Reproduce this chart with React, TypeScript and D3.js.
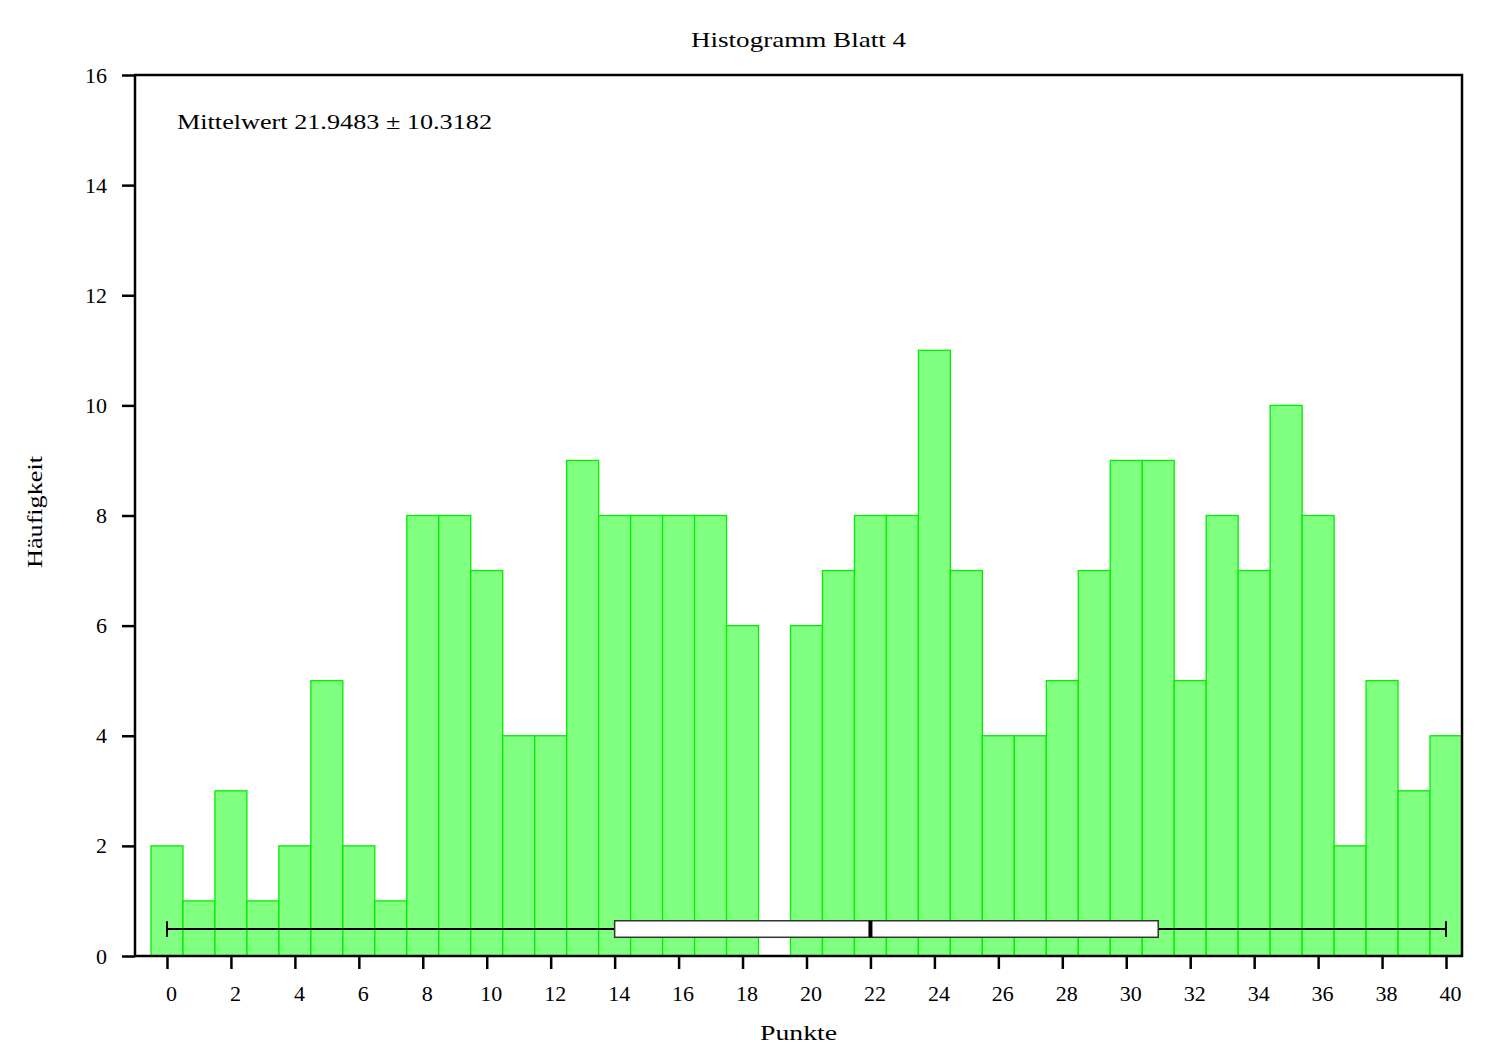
import React, { useEffect, useRef } from 'react';
import * as d3 from 'd3';

// Punkte (bin centres) and Häufigkeit (counts per bin)
const points = d3.range(0, 41);
const counts = [
  2, 1, 3, 1, 2, 5, 2, 1, 8, 8,
  7, 4, 4, 9, 8, 8, 8, 8, 6, 0,
  6, 7, 8, 8, 11, 7, 4, 4, 5, 7,
  9, 9, 5, 8, 7, 10, 8, 2, 5, 3,
  4,
];
// min, q1, median, q3, max
const boxStats = [0, 14, 22, 31, 40];
const xTicks = d3.range(0, 41, 2);
const yTicks = d3.range(0, 17, 2);

const title = 'Histogramm Blatt 4';
const meanText = 'Mittelwert 21.9483 \u00b1 10.3182';
const xLabel = 'Punkte';
const yLabel = 'Häufigkeit';

const W = 1500;
const H = 1050;
const margin = { top: 75, right: 38, bottom: 94, left: 135 };
const font = '"Liberation Serif", "DejaVu Serif", serif';

const App: React.FC = () => {
  const svgRef = useRef<SVGSVGElement>(null);

  useEffect(() => {
    if (!svgRef.current) return;
    const svg = d3.select(svgRef.current);
    svg.selectAll('*').remove();

    const innerW = W - margin.left - margin.right;
    const innerH = H - margin.top - margin.bottom;

    const x = d3.scaleLinear().domain([-1, 40.5]).range([0, innerW]);
    const y = d3.scaleLinear().domain([0, 16]).range([innerH, 0]);

    const g = svg.append('g')
      .attr('transform', `translate(${margin.left},${margin.top})`);

    // bars
    g.selectAll('rect.bar')
      .data(points.map((p, i) => ({ p, c: counts[i] })).filter(d => d.c > 0))
      .enter()
      .append('rect')
      .attr('class', 'bar')
      .attr('x', d => x(d.p - 0.5))
      .attr('width', d => x(d.p + 0.5) - x(d.p - 0.5))
      .attr('y', d => y(d.c))
      .attr('height', d => y(0) - y(d.c))
      .attr('fill', '#80ff80')
      .attr('stroke', '#00ee00')
      .attr('stroke-width', 1.3);

    // box plot
    const [mn, q1, med, q3, mx] = boxStats;
    const yc = y(0.49);
    const half = y(0) - y(0.15);
    g.append('line')
      .attr('x1', x(mn)).attr('x2', x(q1))
      .attr('y1', yc).attr('y2', yc)
      .attr('stroke', '#000').attr('stroke-width', 2);
    g.append('line')
      .attr('x1', x(q3)).attr('x2', x(mx))
      .attr('y1', yc).attr('y2', yc)
      .attr('stroke', '#000').attr('stroke-width', 2);
    [mn, mx].forEach(v => {
      g.append('line')
        .attr('x1', x(v)).attr('x2', x(v))
        .attr('y1', yc - half * 0.95).attr('y2', yc + half * 0.95)
        .attr('stroke', '#000').attr('stroke-width', 2);
    });
    g.append('rect')
      .attr('x', x(q1)).attr('width', x(q3) - x(q1))
      .attr('y', yc - half).attr('height', half * 2)
      .attr('fill', '#fff')
      .attr('stroke', '#333').attr('stroke-width', 1.5);
    g.append('line')
      .attr('x1', x(med)).attr('x2', x(med))
      .attr('y1', yc - half).attr('y2', yc + half)
      .attr('stroke', '#000').attr('stroke-width', 4);

    // frame
    g.append('rect')
      .attr('x', 0).attr('y', 0)
      .attr('width', innerW).attr('height', innerH)
      .attr('fill', 'none')
      .attr('stroke', '#000').attr('stroke-width', 2.5);

    // y axis
    const yAxis = g.append('g')
      .call(d3.axisLeft(y).tickValues(yTicks).tickSize(13).tickPadding(15).tickFormat(d3.format('d')));
    yAxis.select('.domain').remove();
    yAxis.selectAll('line').attr('stroke-width', 2.5);
    yAxis.selectAll('text')
      .attr('font-family', font)
      .attr('font-size', 22)
      .attr('fill', '#000');

    // x axis
    const xAxis = g.append('g')
      .attr('transform', `translate(0,${innerH})`)
      .call(d3.axisBottom(x).tickValues(xTicks).tickSize(13).tickPadding(16).tickFormat(d3.format('d')));
    xAxis.select('.domain').remove();
    xAxis.selectAll('line').attr('stroke-width', 2.5);
    xAxis.selectAll('text')
      .attr('font-family', font)
      .attr('font-size', 22)
      .attr('fill', '#000')
      .attr('dx', 4);

    // texts (Computer Modern is wider than Times, so stretch to the measured widths)
    svg.append('text')
      .attr('x', margin.left + innerW / 2)
      .attr('y', 47)
      .attr('text-anchor', 'middle')
      .attr('font-family', font)
      .attr('font-size', 22)
      .attr('textLength', 215)
      .attr('lengthAdjust', 'spacingAndGlyphs')
      .text(title);

    svg.append('text')
      .attr('x', 177)
      .attr('y', 129)
      .attr('font-family', font)
      .attr('font-size', 22)
      .attr('textLength', 315)
      .attr('lengthAdjust', 'spacingAndGlyphs')
      .text(meanText);

    svg.append('text')
      .attr('x', margin.left + innerW / 2)
      .attr('y', 1040)
      .attr('text-anchor', 'middle')
      .attr('font-family', font)
      .attr('font-size', 22)
      .attr('textLength', 77)
      .attr('lengthAdjust', 'spacingAndGlyphs')
      .text(xLabel);

    svg.append('text')
      .attr('transform', `translate(42,${512}) rotate(-90)`)
      .attr('text-anchor', 'middle')
      .attr('font-family', font)
      .attr('font-size', 22)
      .attr('textLength', 112)
      .attr('lengthAdjust', 'spacingAndGlyphs')
      .text(yLabel);
  }, []);

  return (
    <svg
      ref={svgRef}
      width={W}
      height={H}
      style={{ position: 'absolute', left: 0, top: 0, background: '#fff' }}
    />
  );
};

export default App;
